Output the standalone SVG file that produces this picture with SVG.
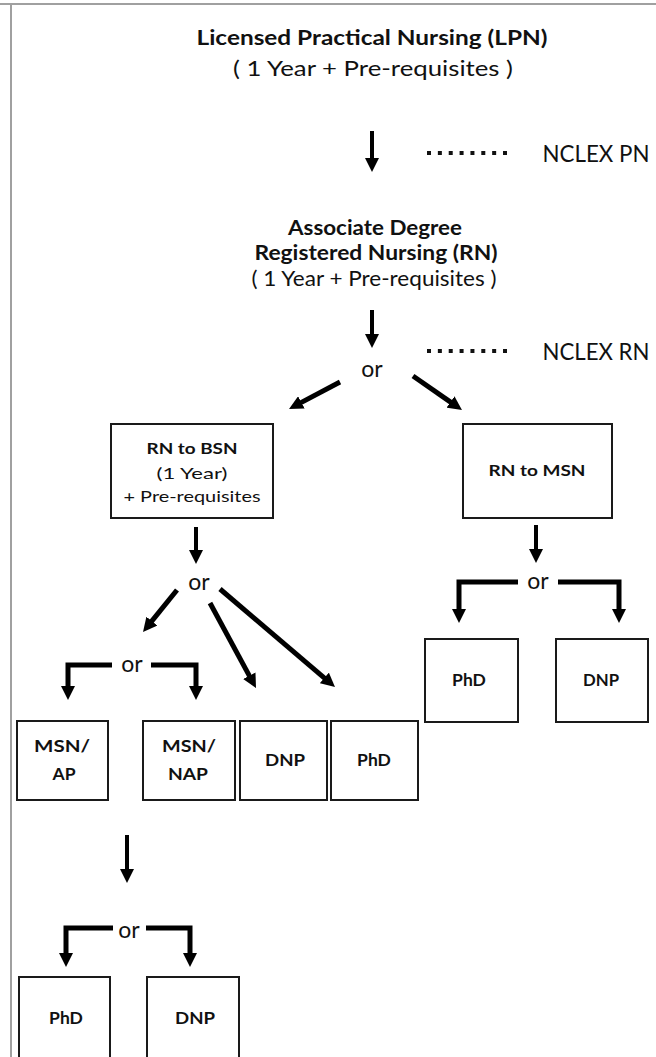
<svg xmlns="http://www.w3.org/2000/svg" width="656" height="1057" viewBox="0 0 656 1057">
<style>
.t{font-family:Lato,"Liberation Sans",sans-serif;fill:#111;text-anchor:middle}
.b{font-weight:700}
.box{fill:#fff;stroke:#1a1a1a;stroke-width:2}
.arr{fill:none;stroke:#000;stroke-width:4;marker-end:url(#ah)}
.arr5{fill:none;stroke:#000;stroke-width:5;marker-end:url(#ah)}
.dots{stroke:#111;stroke-width:4;stroke-dasharray:4 6.86}
.frame{stroke:#a0a0a0;stroke-width:2;fill:none}
</style>
<defs>
<marker id="ah" viewBox="0 0 14 14" refX="1" refY="7" markerWidth="14" markerHeight="14" markerUnits="userSpaceOnUse" orient="auto"><path d="M0,0 L14,7 L0,14 z" fill="#000"/></marker>
</defs>
<rect width="656" height="1057" fill="#fff"/>
<path class="frame" d="M0,4 H656 M11,4 V1057"/>

<g id="connectors">
<path class="arr" d="M372,131 V159"/>
<line class="dots" x1="427" y1="153" x2="507" y2="153"/>
<path class="arr" d="M372,310 V335"/>
<line class="dots" x1="427" y1="351" x2="507" y2="351"/>
<path class="arr5" d="M340,382 L300.5,402.9"/>
<path class="arr5" d="M413,376 L451.3,402.6"/>
<path class="arr" d="M196,527 V551"/>
<path class="arr" d="M536,525 V550"/>
<path class="arr5" d="M177,590 L151.2,621.9"/>
<path class="arr5" d="M210,603 L249.8,676.6"/>
<path class="arr5" d="M220,589 L325.1,678.6"/>
<path class="arr5" d="M112,665 H68 V687"/>
<path class="arr5" d="M151,665 H196 V687"/>
<path class="arr5" d="M518,582 H459 V610"/>
<path class="arr5" d="M558,582 H619 V610"/>
<path class="arr" d="M127,835 V870"/>
<path class="arr5" d="M113,928 H66 V954"/>
<path class="arr5" d="M146,928 H190 V954"/>
</g>

<g id="n-lpn">
<text class="t b" x="372" y="45" font-size="21.5" textLength="351" lengthAdjust="spacingAndGlyphs">Licensed Practical Nursing (LPN)</text>
<text class="t" x="373" y="76" font-size="21.5" textLength="280" lengthAdjust="spacingAndGlyphs">( 1 Year + Pre-requisites )</text>
</g>
<g id="n-nclex-pn"><text class="t" x="596" y="162" font-size="23" textLength="107" lengthAdjust="spacingAndGlyphs">NCLEX PN</text></g>
<g id="n-adn">
<text class="t b" x="375" y="235" font-size="20.5" textLength="174" lengthAdjust="spacingAndGlyphs">Associate Degree</text>
<text class="t b" x="376" y="260" font-size="20.5" textLength="243" lengthAdjust="spacingAndGlyphs">Registered Nursing (RN)</text>
<text class="t" x="374" y="286" font-size="20.5" textLength="245" lengthAdjust="spacingAndGlyphs">( 1 Year + Pre-requisites )</text>
</g>
<g id="n-nclex-rn"><text class="t" x="596" y="360" font-size="23" textLength="107" lengthAdjust="spacingAndGlyphs">NCLEX RN</text></g>
<g id="n-or1"><text class="t" x="372" y="377" font-size="23">or</text></g>

<g id="n-bsn">
<rect class="box" x="111" y="424" width="162" height="94"/>
<text class="t b" x="192" y="454" font-size="16" textLength="91" lengthAdjust="spacingAndGlyphs">RN to BSN</text>
<text class="t" x="192" y="479" font-size="16" textLength="71" lengthAdjust="spacingAndGlyphs">(1 Year)</text>
<text class="t" x="192" y="502" font-size="16" textLength="137" lengthAdjust="spacingAndGlyphs">+ Pre-requisites</text>
</g>
<g id="n-msn">
<rect class="box" x="463" y="424" width="149" height="94"/>
<text class="t b" x="537" y="476" font-size="16" textLength="97" lengthAdjust="spacingAndGlyphs">RN to MSN</text>
</g>

<g id="n-or2"><text class="t" x="199" y="590" font-size="23">or</text></g>
<g id="n-or3"><text class="t" x="132" y="672" font-size="23">or</text></g>
<g id="n-msn-ap">
<rect class="box" x="17" y="721" width="91" height="79"/>
<text class="t b" x="62" y="752" font-size="17.5" textLength="56" lengthAdjust="spacingAndGlyphs">MSN/</text>
<text class="t b" x="64" y="780" font-size="17.5">AP</text>
</g>
<g id="n-msn-nap">
<rect class="box" x="143" y="721" width="92" height="79"/>
<text class="t b" x="189" y="752" font-size="17.5" textLength="54" lengthAdjust="spacingAndGlyphs">MSN/</text>
<text class="t b" x="188" y="780" font-size="17.5" textLength="40" lengthAdjust="spacingAndGlyphs">NAP</text>
</g>
<g id="n-dnp1">
<rect class="box" x="240" y="721" width="87" height="79"/>
<text class="t b" x="285" y="766" font-size="17.5" textLength="40" lengthAdjust="spacingAndGlyphs">DNP</text>
</g>
<g id="n-phd1">
<rect class="box" x="331" y="721" width="87" height="79"/>
<text class="t b" x="374" y="766" font-size="17.5">PhD</text>
</g>

<g id="n-or4"><text class="t" x="538" y="589" font-size="23">or</text></g>
<g id="n-phd2">
<rect class="box" x="425" y="639" width="93" height="83"/>
<text class="t b" x="469" y="686" font-size="17.5">PhD</text>
</g>
<g id="n-dnp2">
<rect class="box" x="556" y="639" width="92" height="83"/>
<text class="t b" x="601" y="686" font-size="17.5" textLength="36" lengthAdjust="spacingAndGlyphs">DNP</text>
</g>

<g id="n-or5"><text class="t" x="129" y="938" font-size="23">or</text></g>
<g id="n-phd3">
<rect class="box" x="19" y="977" width="91" height="90"/>
<text class="t b" x="66" y="1024" font-size="17.5">PhD</text>
</g>
<g id="n-dnp3">
<rect class="box" x="147" y="977" width="92" height="90"/>
<text class="t b" x="195" y="1024" font-size="17.5" textLength="40" lengthAdjust="spacingAndGlyphs">DNP</text>
</g>
</svg>
